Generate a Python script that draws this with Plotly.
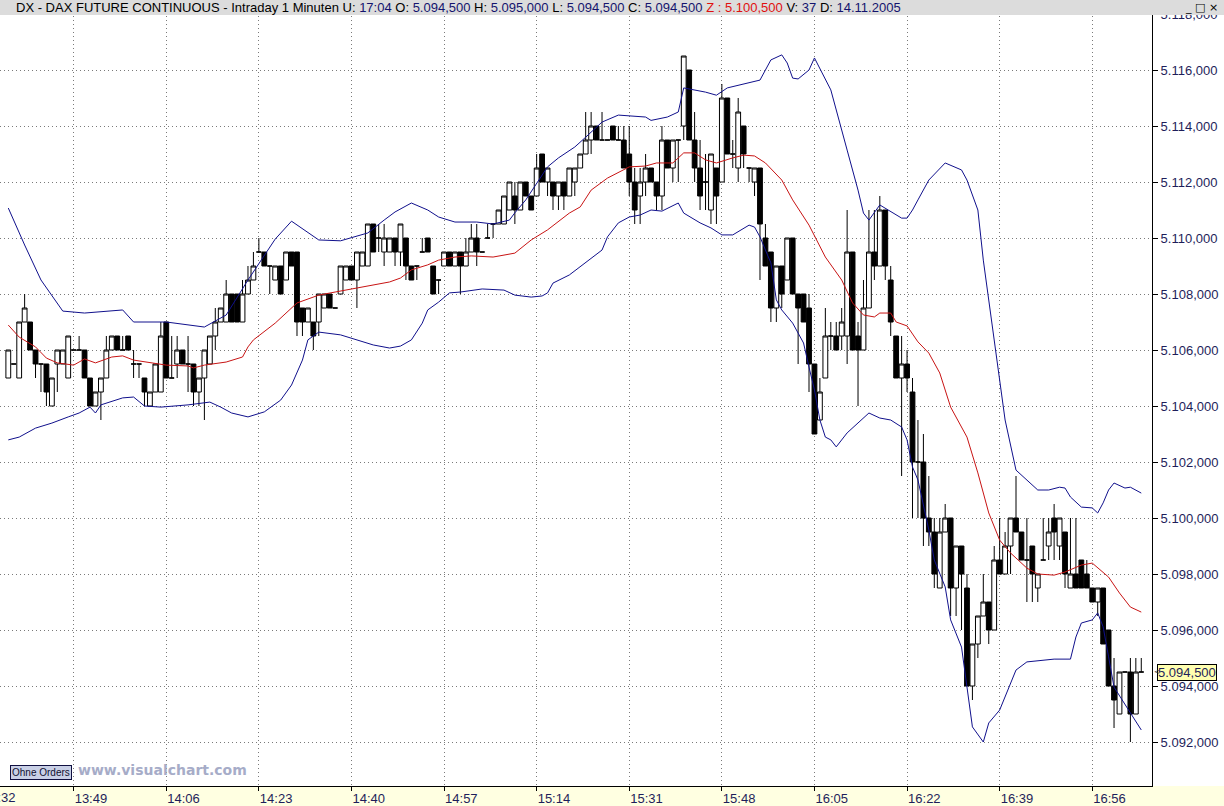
import plotly.graph_objects as go

# ---------------- data ----------------
start_time = "13:37"  # first 1-minute bar

opens = [
    5105, 5105.5, 5105, 5107, 5107, 5106, 5105.5, 5105.5, 5104, 5105.5,
    5105.5, 5105, 5106, 5106, 5106, 5105, 5104, 5104.5, 5105, 5106,
    5106.5, 5106, 5106.5, 5105.5, 5105.5, 5105, 5104, 5104.5, 5104.5, 5107,
    5105, 5105.5, 5106, 5105.5, 5105.5, 5104.5, 5105, 5105.5, 5106.5, 5107,
    5107, 5108, 5108, 5107, 5108, 5108.5, 5109.5, 5109.5, 5109, 5108.5,
    5109, 5108.5, 5109.5, 5109.5, 5107.5, 5107, 5107, 5107, 5107.5, 5108,
    5107.5, 5108, 5108.5, 5109, 5108.5, 5109, 5109, 5110.5, 5110, 5109.5,
    5109.5, 5110, 5109.5, 5110, 5109, 5109, 5109.5, 5110, 5109, 5108.5,
    5109, 5109.5, 5109, 5109.5, 5109, 5109.5, 5110, 5109.5, 5110, 5110.5,
    5110.5, 5110.5, 5111, 5111.5, 5111, 5112, 5111.5, 5111.5, 5113, 5112,
    5112, 5111.5, 5112, 5111.5, 5112, 5112.5, 5113, 5113.5, 5114, 5113.5,
    5113.5, 5114, 5113.5, 5113.5, 5113, 5112, 5111.5, 5112, 5112.5, 5112,
    5111.5, 5113.5, 5112.5, 5113.5, 5114, 5116, 5113.5, 5112.5, 5112, 5111,
    5112.5, 5112, 5115, 5113, 5112.5, 5114, 5112.5, 5112, 5112.5, 5110,
    5109.5, 5107.5, 5109, 5108.5, 5110, 5108, 5108, 5107.5, 5105.5, 5103.5,
    5105, 5106.5, 5106.5, 5106.5, 5106.5, 5109.5, 5106.5, 5106, 5107.5, 5109.5,
    5109, 5111, 5108.5, 5106.5, 5105, 5105.5, 5104.5, 5102, 5102, 5100,
    5099.5, 5097.5, 5099.5, 5100, 5097.5, 5099, 5097.5, 5094, 5095.5, 5096.5,
    5097, 5096, 5098.5, 5098, 5099, 5100, 5099.5, 5098.5, 5099, 5097.5,
    5098.5, 5099, 5100, 5099, 5099.5, 5097.5, 5098, 5098.5, 5098, 5097.5,
    5097, 5097.5, 5096, 5094, 5093, 5094.5, 5094.5, 5093, 5094.5,
]
highs = [
    5106, 5105.5, 5107, 5108, 5107, 5106, 5105.5, 5105.5, 5105, 5106,
    5106, 5106.5, 5106, 5106.5, 5106, 5105, 5104.5, 5105, 5106.5, 5106.5,
    5106.5, 5106.5, 5106.5, 5106, 5105.5, 5105, 5104.5, 5105.5, 5107, 5107,
    5106.5, 5106.5, 5106, 5106.5, 5105.5, 5105, 5106, 5106.5, 5107.5, 5107.5,
    5108.5, 5108, 5108, 5108.5, 5109, 5109.5, 5110, 5109.5, 5109, 5109,
    5109, 5109.5, 5109.5, 5109.5, 5107.5, 5107.5, 5107, 5108, 5108, 5108,
    5107.5, 5109, 5109, 5109, 5109.5, 5109.5, 5110.5, 5110.5, 5110.5, 5110.5,
    5110, 5110, 5110.5, 5110, 5109, 5109, 5110, 5110, 5109, 5108.5,
    5109.5, 5109.5, 5109.5, 5109.5, 5110, 5110.5, 5110.5, 5109.5, 5110.5, 5110.5,
    5111, 5111.5, 5112, 5112, 5112, 5112, 5111.5, 5113, 5113, 5112.5,
    5112, 5112, 5112, 5112.5, 5112.5, 5113, 5114.5, 5114.5, 5114, 5114.5,
    5113.5, 5114, 5114, 5114, 5114, 5112.5, 5112.5, 5113, 5112.5, 5112,
    5114, 5113.5, 5113.5, 5113.5, 5116.5, 5116, 5114.5, 5113.5, 5113, 5113,
    5112.5, 5115.5, 5115, 5113.5, 5115, 5114, 5112.5, 5112.5, 5112.5, 5110.5,
    5109.5, 5109, 5109, 5110, 5110, 5108, 5108, 5108, 5105.5, 5105,
    5107.5, 5107, 5107, 5107.5, 5111, 5109.5, 5107, 5108.5, 5111, 5111,
    5111.5, 5111, 5109, 5106.5, 5106.5, 5106, 5105, 5103.5, 5103, 5101.5,
    5100, 5100, 5100.5, 5100, 5099, 5099, 5098, 5095.5, 5096.5, 5098,
    5097, 5099, 5100, 5099.5, 5100, 5101.5, 5099.5, 5100, 5099, 5098,
    5100, 5100, 5100.5, 5100, 5099.5, 5100, 5100, 5098.5, 5098.5, 5097.5,
    5097.5, 5097.5, 5096, 5095, 5094.5, 5094.5, 5095, 5095, 5095,
]
lows = [
    5105, 5105.5, 5105, 5107, 5106, 5105, 5104.5, 5104, 5104, 5104.5,
    5105.5, 5105, 5106, 5106, 5105, 5104, 5104, 5103.5, 5105, 5106,
    5106, 5106, 5106, 5105, 5105, 5104, 5104, 5104.5, 5104.5, 5105,
    5105, 5105, 5105.5, 5104.5, 5104, 5104, 5103.5, 5105.5, 5106, 5107,
    5107, 5107, 5107, 5107, 5108, 5108.5, 5109.5, 5109, 5108, 5108.5,
    5108, 5108.5, 5109, 5106.5, 5106.5, 5107, 5106, 5106.5, 5107.5, 5107.5,
    5107.5, 5108, 5108.5, 5108.5, 5107.5, 5109, 5109, 5109.5, 5109.5, 5109,
    5109.5, 5109, 5109, 5108.5, 5108.5, 5108.5, 5109.5, 5109.5, 5108, 5108,
    5109, 5109, 5109, 5108, 5109, 5109.5, 5109, 5109.5, 5110, 5110,
    5110.5, 5110.5, 5111, 5110.5, 5111, 5111.5, 5111, 5111.5, 5112, 5111.5,
    5111, 5111, 5111, 5111.5, 5111.5, 5112.5, 5113, 5113, 5113.5, 5113.5,
    5113.5, 5113.5, 5113.5, 5112.5, 5111.5, 5110.5, 5110.5, 5111.5, 5112, 5111,
    5111, 5112.5, 5112, 5112, 5113.5, 5113.5, 5112, 5111, 5111, 5110.5,
    5110.5, 5112, 5113, 5112.5, 5112, 5112.5, 5112, 5111.5, 5108.5, 5109,
    5107, 5107, 5107.5, 5108.5, 5108, 5105.5, 5107, 5104.5, 5103, 5103.5,
    5105, 5106, 5106, 5106, 5105.5, 5106, 5104, 5106, 5107.5, 5108.5,
    5109, 5108.5, 5106.5, 5105, 5101.5, 5104.5, 5100, 5100, 5099, 5099,
    5097.5, 5097.5, 5099.5, 5096.5, 5096.5, 5096, 5094, 5093.5, 5095, 5096.5,
    5095.5, 5096, 5098, 5098, 5098, 5099.5, 5098.5, 5097, 5097, 5097,
    5098.5, 5098.5, 5098.5, 5098.5, 5097.5, 5097.5, 5097.5, 5097.5, 5097.5, 5097,
    5096.5, 5095.5, 5094, 5092.5, 5093, 5094.5, 5092, 5093, 5094.5,
]
closes = [
    5106, 5105.5, 5107, 5107.5, 5106, 5105.5, 5105.5, 5104.5, 5105, 5106,
    5106, 5106.5, 5106, 5106, 5105, 5104, 5104.5, 5105, 5106, 5106.5,
    5106, 5106, 5106, 5105.5, 5105.5, 5104.5, 5104.5, 5105.5, 5106.5, 5105,
    5105, 5106, 5105.5, 5105.5, 5104.5, 5105, 5106, 5106.5, 5107, 5107.5,
    5108, 5107, 5107, 5108, 5108.5, 5109, 5109.5, 5109, 5109, 5109,
    5108, 5109.5, 5109, 5107, 5107, 5107.5, 5106.5, 5108, 5108, 5107.5,
    5107.5, 5109, 5109, 5108.5, 5109.5, 5109.5, 5110.5, 5109.5, 5110, 5110,
    5110, 5109.5, 5110.5, 5109, 5108.5, 5109, 5109.5, 5109.5, 5108, 5108.5,
    5109.5, 5109, 5109.5, 5109, 5109.5, 5110, 5109.5, 5109.5, 5110, 5110.5,
    5111, 5111.5, 5112, 5111, 5112, 5111.5, 5111, 5112.5, 5112, 5112.5,
    5111.5, 5112, 5111.5, 5112.5, 5112.5, 5113, 5113.5, 5114, 5113.5, 5113.5,
    5113.5, 5113.5, 5113.5, 5112.5, 5112, 5111, 5112, 5112.5, 5112, 5111.5,
    5113.5, 5112.5, 5113.5, 5113.5, 5116.5, 5113.5, 5112.5, 5111.5, 5112, 5113,
    5111.5, 5115, 5113, 5113, 5114.5, 5113, 5112.5, 5112.5, 5110.5, 5109,
    5107.5, 5109, 5108, 5110, 5108, 5107.5, 5107, 5105.5, 5103, 5104.5,
    5106.5, 5106.5, 5106, 5107, 5109.5, 5106, 5106, 5107.5, 5109.5, 5109,
    5111, 5109, 5107, 5105, 5105.5, 5105, 5102, 5102, 5100, 5099.5,
    5098, 5099.5, 5100, 5097.5, 5099, 5098, 5094, 5095.5, 5096.5, 5097,
    5096, 5098.5, 5098, 5099, 5100, 5099.5, 5098.5, 5098.5, 5098, 5098,
    5098.5, 5099.5, 5099.5, 5100, 5098, 5098, 5097.5, 5097.5, 5097.5, 5097,
    5097.5, 5095.5, 5094, 5093.5, 5094.5, 5094.5, 5093, 5094.5, 5094.5,
]

# Bollinger bands (bar index, value)
upper_idx = [0, 3, 6, 10, 14, 21, 23, 29, 36, 40, 44, 49, 52, 57, 61, 66, 69, 71, 74, 77,
             79, 82, 86, 89, 92, 93, 95, 97, 99, 101, 104, 106, 109, 112, 117, 118, 121, 123, 124, 128,
             130, 132, 136, 138, 140, 142, 143, 144, 145, 147, 148, 151, 154, 156, 157, 158, 160, 161, 164, 165,
             166, 167, 169, 172, 175, 176, 178, 179, 181, 183, 185, 187, 189, 191, 193, 194, 195, 197, 199, 200,
             201, 202, 203, 205, 206, 208]
upper_val = [5111.07, 5109.75, 5108.5, 5107.39, 5107.32, 5107.43, 5107.0, 5107.0, 5106.82, 5107.25,
             5108.5, 5109.96, 5110.6, 5109.93, 5109.9, 5110.18, 5110.64, 5110.93, 5111.25, 5111.0,
             5110.75, 5110.57, 5110.57, 5110.5, 5110.64, 5110.9, 5111.36, 5111.96, 5112.54, 5112.86,
             5113.25, 5113.6, 5114.14, 5114.39, 5114.32, 5114.2, 5114.32, 5114.5, 5115.36, 5115.21,
             5115.1, 5115.36, 5115.54, 5115.64, 5116.36, 5116.54, 5116.25, 5115.71, 5115.68, 5116.0,
             5116.43, 5115.29, 5113.14, 5111.71, 5110.89, 5110.64, 5111.18, 5111.07, 5110.71, 5110.71,
             5111.0, 5111.36, 5112.07, 5112.68, 5112.43, 5112.07, 5111.0, 5109.21, 5106.36, 5103.5,
             5101.71, 5101.36, 5101.0, 5101.0, 5101.1, 5101.07, 5100.75, 5100.39, 5100.36, 5100.18,
             5100.54, 5101.0, 5101.25, 5101.07, 5101.1, 5100.89]

lower_idx = [0, 2, 5, 8, 11, 13, 15, 16, 17, 21, 23, 25, 28, 33, 37, 39, 41, 44, 47, 50,
             52, 54, 55, 57, 61, 65, 67, 70, 72, 74, 76, 77, 79, 81, 83, 87, 91, 93, 96, 98,
             99, 100, 103, 109, 110, 112, 114, 116, 118, 120, 123, 124, 127, 129, 131, 133, 136, 137, 138, 139,
             140, 141, 142, 144, 146, 147, 148, 149, 150, 151, 152, 154, 156, 158, 160, 162, 164, 165, 166, 167,
             169, 170, 172, 173, 175, 176, 177, 179, 180, 182, 183, 185, 187, 192, 195, 196, 197, 199, 200, 201,
             202, 203, 206, 208]
lower_val = [5102.79, 5102.89, 5103.21, 5103.39, 5103.61, 5103.75, 5103.96, 5103.75, 5104.04, 5104.29,
             5104.32, 5104.0, 5103.96, 5104.04, 5104.14, 5103.96, 5103.75, 5103.61, 5103.79, 5104.21,
             5104.75, 5105.64, 5106.36, 5106.64, 5106.54, 5106.29, 5106.18, 5106.07, 5106.14, 5106.36,
             5106.96, 5107.43, 5107.71, 5108.04, 5108.07, 5108.18, 5108.14, 5107.96, 5107.89, 5107.93,
             5108.04, 5108.39, 5108.68, 5109.57, 5110.04, 5110.54, 5110.75, 5110.82, 5111.0, 5110.96,
             5111.25, 5110.89, 5110.54, 5110.36, 5110.11, 5110.11, 5110.46, 5110.39, 5110.04, 5109.57,
             5109.11, 5107.79, 5107.43, 5106.96, 5106.25, 5105.39, 5104.57, 5103.5, 5102.89, 5102.79,
             5102.54, 5103.04, 5103.39, 5103.75, 5103.57, 5103.5, 5103.25, 5102.79, 5101.82, 5101.36,
             5099.57, 5098.5, 5097.54, 5096.36, 5095.39, 5093.96, 5092.54, 5092.0, 5092.68, 5093.14,
             5093.61, 5094.57, 5094.86, 5094.96, 5094.96, 5095.75, 5096.25, 5096.36, 5096.61, 5096.11,
             5095.04, 5093.96, 5093.04, 5092.43]

mid_idx = [0, 2, 5, 7, 9, 12, 14, 16, 19, 21, 23, 26, 29, 33, 34, 36, 40, 43, 44, 45,
           49, 53, 57, 60, 63, 67, 70, 72, 74, 77, 79, 82, 85, 89, 93, 96, 99, 103, 105, 107,
           110, 114, 117, 119, 122, 124, 126, 128, 130, 133, 135, 137, 139, 142, 144, 147, 150, 153, 155, 157,
           159, 160, 162, 163, 165, 167, 169, 171, 173, 176, 178, 180, 182, 184, 187, 189, 192, 194, 197, 199,
           202, 204, 206, 208]
mid_val = [5106.89, 5106.46, 5106.11, 5105.71, 5105.54, 5105.46, 5105.68, 5105.54, 5105.75, 5105.79,
           5105.64, 5105.54, 5105.46, 5105.43, 5105.36, 5105.46, 5105.57, 5105.75, 5106.11, 5106.36,
           5106.96, 5107.68, 5107.96, 5108.07, 5108.18, 5108.32, 5108.43, 5108.57, 5108.86, 5109.04,
           5109.21, 5109.32, 5109.36, 5109.32, 5109.46, 5109.93, 5110.29, 5110.89, 5111.11, 5111.71,
           5112.14, 5112.54, 5112.57, 5112.68, 5112.68, 5113.04, 5113.04, 5112.79, 5112.68, 5112.86,
           5112.96, 5112.93, 5112.68, 5112.07, 5111.36, 5110.46, 5109.32, 5108.5, 5107.68, 5107.25,
           5107.18, 5107.32, 5107.32, 5107.0, 5106.86, 5106.29, 5105.89, 5105.18, 5103.96, 5102.89,
           5101.61, 5100.18, 5099.21, 5098.75, 5098.21, 5098.0, 5097.96, 5098.07, 5098.32, 5098.39,
           5097.89, 5097.32, 5096.82, 5096.64]

tick_labels = ["13:49", "14:06", "14:23", "14:40", "14:57", "15:14",
               "15:31", "15:48", "16:05", "16:22", "16:39", "16:56"]
price_ticks = [5092, 5094, 5096, 5098, 5100, 5102, 5104, 5106, 5108, 5110, 5112, 5114, 5116, 5118]

last_time = "17:04"
prev_close = 5100.5
last_volume = 37
chart_date = "14.11.2005"

# ---------------- helpers ----------------
def minutes(t):
    h, m = t.split(":")
    return int(h) * 60 + int(m)

def de_fmt(v):
    s = f"{v:,.3f}"
    return s.replace(",", "X").replace(".", ",").replace("X", ".")

t0 = minutes(start_time)
x_idx = list(range(len(opens)))
tick_pos = [minutes(t) - t0 for t in tick_labels]

W, H = 1224, 806
ML, MR, MT, MB = 0, 72, 12, 20
PW, PH = W - ML - MR, H - MT - MB
BAR_PX = 5.447       # pixel per bar
X0_PX = 8.3          # pixel of the first bar
PT_PX = 28.0         # pixel per index point
Y5092_PX = 742.0

x_lo = (0 - X0_PX) / BAR_PX
x_hi = (PW - X0_PX) / BAR_PX
y_hi = 5092 + (Y5092_PX - MT) / PT_PX
y_lo = 5092 - (MT + PH - Y5092_PX) / PT_PX

def px_x(p):  # pixel -> paper x
    return (p - ML) / PW

def px_y(p):  # pixel -> paper y
    return (MT + PH - p) / PH

axis_font = dict(family="Liberation Sans, Arial, sans-serif", size=13, color="#1e1e5a")
navy = "#14146e"

fig = go.Figure()

fig.add_trace(go.Scatter(x=upper_idx, y=upper_val, mode="lines",
                         line=dict(color="#10108c", width=1), hoverinfo="skip"))
fig.add_trace(go.Scatter(x=lower_idx, y=lower_val, mode="lines",
                         line=dict(color="#10108c", width=1), hoverinfo="skip"))
fig.add_trace(go.Scatter(x=mid_idx, y=mid_val, mode="lines",
                         line=dict(color="#c81414", width=1), hoverinfo="skip"))

fig.add_trace(go.Candlestick(
    x=x_idx, open=opens, high=highs, low=lows, close=closes,
    increasing=dict(line=dict(color="black", width=1), fillcolor="white"),
    decreasing=dict(line=dict(color="black", width=1), fillcolor="black"),
    whiskerwidth=0,
))

header = (
    "DX - DAX FUTURE CONTINUOUS - Intraday 1 Minuten U: "
    f"<span style='color:{navy}'>{last_time}</span> "
    f"O: <span style='color:{navy}'>{de_fmt(opens[-1])}</span> "
    f"H: <span style='color:{navy}'>{de_fmt(highs[-1])}</span> "
    f"L: <span style='color:{navy}'>{de_fmt(lows[-1])}</span> "
    f"C: <span style='color:{navy}'>{de_fmt(closes[-1])}</span> "
    f"<span style='color:#e01010'>Z : {de_fmt(prev_close)}</span> "
    f"V: <span style='color:{navy}'>{last_volume}</span> "
    f"D: <span style='color:{navy}'>{chart_date}</span>"
)

shapes = [
    # yellow time strip
    dict(type="rect", xref="paper", yref="paper", x0=px_x(0), x1=px_x(W), y0=px_y(H), y1=px_y(MT + PH),
         fillcolor="#ffffe1", line=dict(width=0), layer="below"),
    # header bar
    dict(type="rect", xref="paper", yref="paper", x0=px_x(0), x1=px_x(W), y0=px_y(15), y1=px_y(0),
         fillcolor="#dcdcdc", line=dict(width=0), layer="above"),
]

annotations = [
    dict(text=header, xref="paper", yref="paper", x=px_x(14), y=px_y(7.5), xanchor="left", yanchor="middle",
         showarrow=False, font=dict(family="Liberation Sans, Arial, sans-serif", size=13, color="black")),
    dict(text="_ □ ×", xref="paper", yref="paper", x=px_x(1220), y=px_y(7.5), xanchor="right", yanchor="middle",
         showarrow=False, font=dict(family="DejaVu Sans", size=11, color="black")),
    dict(text=de_fmt(closes[-1]), xref="paper", yref="y", x=px_x(1157), y=closes[-1], xanchor="left",
         yanchor="middle", showarrow=False, bgcolor="#ffffb0", bordercolor="black", borderwidth=1, borderpad=0,
         font=axis_font),
    dict(text="<", xref="paper", yref="y", x=px_x(1152), y=closes[-1], xanchor="left", yanchor="middle",
         showarrow=False, font=dict(family="DejaVu Sans", size=7, color="#303030")),
    dict(text="Ohne Orders", xref="paper", yref="paper", x=px_x(10), y=px_y(772.5), xanchor="left",
         yanchor="middle", showarrow=False, bgcolor="#c9d0e6", bordercolor="#101040", borderwidth=1, borderpad=1,
         font=dict(family="Liberation Sans, Arial, sans-serif", size=10, color="#101030")),
    dict(text="<b>www.visualchart.com</b>", xref="paper", yref="paper", x=px_x(76), y=px_y(770),
         xanchor="left", yanchor="middle", showarrow=False,
         font=dict(family="DejaVu Sans", size=14, color="#a6acc8")),
    dict(text="13:32", xref="paper", yref="paper", x=px_x(-19), y=px_y(797), xanchor="left", yanchor="middle",
         showarrow=False, font=axis_font),
]

fig.update_layout(
    width=W, height=H, autosize=False,
    margin=dict(l=ML, r=MR, t=MT, b=MB, pad=0),
    paper_bgcolor="white", plot_bgcolor="white",
    showlegend=False, boxgap=0.12, boxgroupgap=0,
    shapes=shapes, annotations=annotations,
    xaxis=dict(range=[x_lo, x_hi], tickmode="array", tickvals=tick_pos, ticktext=tick_labels,
               showgrid=True, gridcolor="#7a7a7a", griddash="1px,3px", gridwidth=1,
               ticks="outside", ticklen=4, tickcolor="black", tickwidth=1,
               ticklabelposition="outside right", tickfont=axis_font,
               showline=True, linecolor="black", linewidth=1, zeroline=False,
               rangeslider=dict(visible=False), fixedrange=True),
    yaxis=dict(range=[y_lo, y_hi], side="right", tickmode="array", tickvals=price_ticks,
               ticktext=[de_fmt(v) for v in price_ticks],
               showgrid=True, gridcolor="#7a7a7a", griddash="1px,3px", gridwidth=1,
               ticks="outside", ticklen=5, tickcolor="black", tickwidth=1, tickfont=axis_font,
               showline=True, linecolor="black", linewidth=1, zeroline=False, fixedrange=True),
)

# remove the browser's default page margin so the figure sits at the window's top-left corner
fig.write_html("out.html", config={"displayModeBar": False},
               post_script="document.body.style.margin='0';")
